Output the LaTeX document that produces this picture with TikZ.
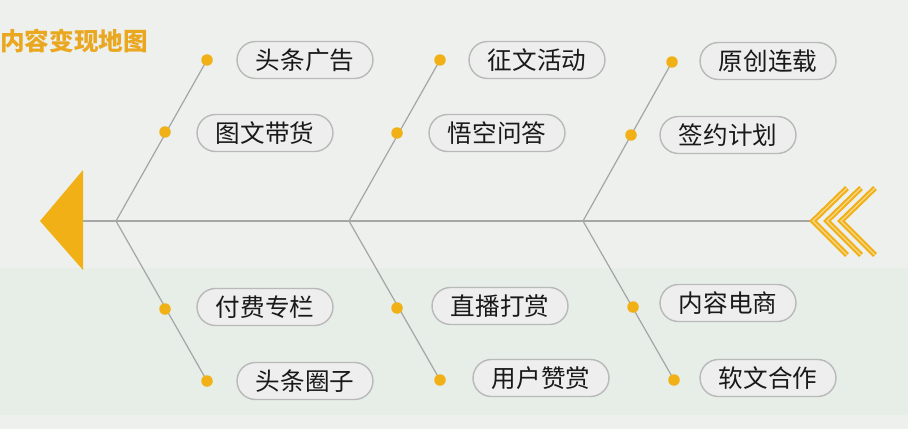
\documentclass[tikz,border=0pt]{standalone}
\usepackage{fontspec}
\newfontfamily\cjk{Noto Sans CJK SC}
\definecolor{jaune}{RGB}{240,176,22}
\definecolor{titre}{RGB}{234,168,32}
\definecolor{fond}{RGB}{238,240,238}
\definecolor{bande}{RGB}{230,238,231}
\tikzset{
  pilule/.style={draw=gray!55, fill=gray!13, line width=0.8pt, rounded corners=3.7mm,
    minimum width=2.72cm, minimum height=0.74cm, inner sep=0pt,
    font=\cjk\fontsize{14}{14}\selectfont, text=black!90},
  point/.style={circle, fill=jaune, inner sep=0pt, minimum size=0.23cm},
  arete/.style={draw=gray!70, line width=0.7pt},
  chevron/.style={draw=jaune, line width=1.2pt, double=jaune!50, double distance=0.7pt}
}
\begin{document}
\begin{tikzpicture}[x=0.02cm, y=-0.02cm]
  % Fond
  \fill[fond] (0,0) rectangle (908,429);
  \fill[bande] (0,268) rectangle (908,415);
  \useasboundingbox (0,0) rectangle (908,429);

  % Titre
  \node[anchor=west, inner sep=0pt, text=titre, font=\cjk\bfseries\fontsize{14}{14}\selectfont] (titre) at (0,41) {内容变现地图};

  % Arête centrale
  \coordinate (tete) at (83,221);
  \coordinate (queue) at (813,221);
  \coordinate (J1) at (116,221);
  \coordinate (J2) at (349,221);
  \coordinate (J3) at (583,221);
  \draw[arete, line width=0.9pt] (tete) -- (queue);

  % Tête (triangle)
  \fill[jaune] (40,221) -- (83,170) -- (83,270) -- cycle;

  % Queue (chevrons)
  \draw[chevron] (847,188) -- (813,221) -- (847,255);
  \draw[chevron] (861,188) -- (827,221) -- (861,255);
  \draw[chevron] (875,188) -- (841,221) -- (875,255);

  % Extrémités des arêtes
  \coordinate (a1) at (207,60);
  \coordinate (a2) at (165,132);
  \coordinate (a3) at (165,309);
  \coordinate (a4) at (207,381);
  \coordinate (b1) at (440,60);
  \coordinate (b2) at (397,133);
  \coordinate (b3) at (397,308);
  \coordinate (b4) at (440,380);
  \coordinate (c1) at (672,62);
  \coordinate (c2) at (631,135);
  \coordinate (c3) at (633,307);
  \coordinate (c4) at (674,380);

  % Arêtes obliques
  \draw[arete] (J1) -- (a1);
  \draw[arete] (J1) -- (a4);
  \draw[arete] (J2) -- (b1);
  \draw[arete] (J2) -- (b4);
  \draw[arete] (J3) -- (c1);
  \draw[arete] (J3) -- (c4);

  % Points
  \node[point] (pa1) at (a1) {};
  \node[point] (pa2) at (a2) {};
  \node[point] (pa3) at (a3) {};
  \node[point] (pa4) at (a4) {};
  \node[point] (pb1) at (b1) {};
  \node[point] (pb2) at (b2) {};
  \node[point] (pb3) at (b3) {};
  \node[point] (pb4) at (b4) {};
  \node[point] (pc1) at (c1) {};
  \node[point] (pc2) at (c2) {};
  \node[point] (pc3) at (c3) {};
  \node[point] (pc4) at (c4) {};

  % Étiquettes
  \node[pilule] (toutiao) at (305,60) {头条广告};
  \node[pilule] (tuwen) at (265,133) {图文带货};
  \node[pilule] (fufei) at (265,307) {付费专栏};
  \node[pilule] (quanzi) at (305,381) {头条圈子};
  \node[pilule] (zhengwen) at (537,60) {征文活动};
  \node[pilule] (wukong) at (497,133) {悟空问答};
  \node[pilule] (zhibo) at (500,306) {直播打赏};
  \node[pilule] (zanshang) at (541,378) {用户赞赏};
  \node[pilule] (yuanchuang) at (768,61) {原创连载};
  \node[pilule] (qianyue) at (728,135) {签约计划};
  \node[pilule] (dianshang) at (728,303) {内容电商};
  \node[pilule] (ruanwen) at (768,378) {软文合作};
\end{tikzpicture}
\end{document}
